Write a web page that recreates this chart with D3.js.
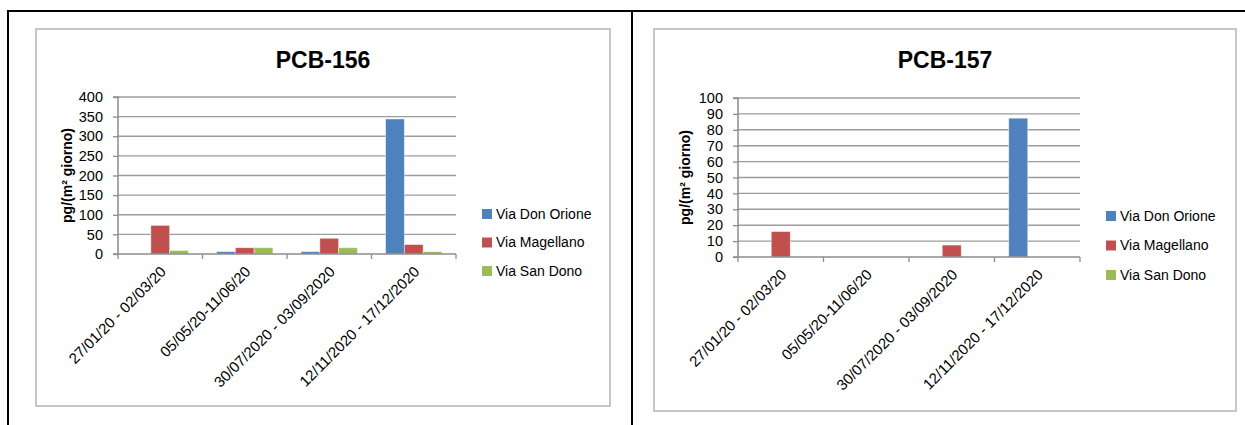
<!DOCTYPE html>
<html>
<head>
<meta charset="utf-8">
<script src="https://cdn.jsdelivr.net/npm/d3@7"></script>
<style>
  html, body { margin: 0; padding: 0; background: #fff; }
  svg { display: block; }
  text { font-family: "Liberation Sans", Arial, sans-serif; fill: #000; }
</style>
</head>
<body>
<svg id="page" width="1245" height="425"></svg>
<script>
// Sampling periods (x categories)
const categories = [
  "27/01/20 - 02/03/20",
  "05/05/20-11/06/20",
  "30/07/2020 - 03/09/2020",
  "12/11/2020 - 17/12/2020"
];
// Monitoring sites (series)
const seriesNames = ["Via Don Orione", "Via Magellano", "Via San Dono"];
const seriesColors = ["#4F81BD", "#C0504D", "#9BBB59"];

// PCB-156 deposition, pg/(m² giorno)
const pcb156DonOrione = [0, 6, 6, 344];
const pcb156Magellano = [73, 16, 40, 24];
const pcb156SanDono   = [9, 16, 16, 6];
const pcb156Ticks = [0, 50, 100, 150, 200, 250, 300, 350, 400];

// PCB-157 deposition, pg/(m² giorno)
const pcb157DonOrione = [0, 0, 0, 87.3];
const pcb157Magellano = [16, 0, 7.5, 0];
const pcb157SanDono   = [0, 0, 0, 0];
const pcb157Ticks = [0, 10, 20, 30, 40, 50, 60, 70, 80, 90, 100];

const yLabel = "pg/(m² giorno)";

const svg = d3.select("#page");

// page frame lines
const frame = svg.append("g").attr("stroke", "#000").attr("stroke-width", 2);
frame.append("line").attr("x1", 7).attr("x2", 1245).attr("y1", 11).attr("y2", 11);
frame.append("line").attr("x1", 8).attr("x2", 8).attr("y1", 10).attr("y2", 425);
frame.append("line").attr("x1", 632).attr("x2", 632).attr("y1", 10).attr("y2", 425);

function drawChart(opt) {
  const g = svg.append("g");

  // chart area border
  g.append("rect")
    .attr("x", opt.box[0]).attr("y", opt.box[1])
    .attr("width", opt.box[2] - opt.box[0]).attr("height", opt.box[3] - opt.box[1])
    .attr("fill", "#fff").attr("stroke", "#b4b4b4").attr("stroke-width", 1.5);

  // title
  g.append("text")
    .attr("x", (opt.box[0] + opt.box[2]) / 2).attr("y", 68)
    .attr("text-anchor", "middle")
    .attr("font-size", 23).attr("font-weight", "bold")
    .text(opt.title);

  const [px0, px1, py0, py1] = opt.plot; // left, right, top, bottom
  const x = d3.scaleBand().domain(categories).range([px0, px1]).padding(0);
  const xs = d3.scaleBand().domain(seriesNames).range([0, x.bandwidth()])
    .paddingInner(0).paddingOuter(0.75);
  const y = d3.scaleLinear().domain([0, opt.ticks[opt.ticks.length - 1]]).range([py1, py0]);

  // gridlines
  g.append("g").selectAll("line").data(opt.ticks.filter(t => t > 0)).join("line")
    .attr("x1", px0).attr("x2", px1)
    .attr("y1", d => y(d)).attr("y2", d => y(d))
    .attr("stroke", "#9c9c9c").attr("stroke-width", 1.4);

  // bars
  const rows = categories.map((c, i) => ({
    cat: c,
    vals: opt.series.map((s, k) => ({ name: seriesNames[k], v: s[i], color: seriesColors[k] }))
  }));
  g.append("g").selectAll("g").data(rows).join("g")
    .attr("transform", d => `translate(${x(d.cat)},0)`)
    .selectAll("rect").data(d => d.vals.filter(v => v.v > 0)).join("rect")
    .attr("x", d => xs(d.name))
    .attr("width", xs.bandwidth())
    .attr("y", d => y(d.v))
    .attr("height", d => y(0) - y(d.v))
    .attr("fill", d => d.color)
    .attr("stroke", "rgba(255,255,255,0.55)").attr("stroke-width", 0.8);

  // y axis
  const yAxis = d3.axisLeft(y).tickValues(opt.ticks).tickSize(5).tickPadding(10)
    .tickFormat(d3.format("d"));
  const ya = g.append("g").attr("transform", `translate(${px0},0)`).call(yAxis);
  ya.select(".domain").attr("stroke", "#8c8c8c").attr("stroke-width", 1.5)
    .attr("d", `M-5,${py0}H0V${py1}`);
  ya.selectAll(".tick line").attr("stroke", "#8c8c8c").attr("stroke-width", 1.3);
  ya.selectAll(".tick text").attr("font-size", 14.5)
    .attr("font-family", "Liberation Sans, Arial, sans-serif").attr("fill", "#000");

  // x axis line and category boundary ticks
  g.append("line").attr("x1", px0 - 5).attr("x2", px1).attr("y1", py1).attr("y2", py1)
    .attr("stroke", "#8c8c8c").attr("stroke-width", 1.5);
  const edges = categories.map(c => x(c)).concat([px1]);
  g.append("g").selectAll("line").data(edges).join("line")
    .attr("x1", d => d).attr("x2", d => d).attr("y1", py1).attr("y2", py1 + 5)
    .attr("stroke", "#8c8c8c").attr("stroke-width", 1.3);

  // category labels
  g.append("g").selectAll("text").data(categories).join("text")
    .attr("transform", d => `translate(${x(d) + x.bandwidth() / 2 + 3},${py1 + 15}) rotate(-45)`)
    .attr("text-anchor", "end")
    .attr("dy", "0.35em")
    .attr("font-size", 15)
    .text(d => d);

  // y axis title
  g.append("text")
    .attr("transform", `translate(${opt.yLabelX},${(py0 + py1) / 2}) rotate(-90)`)
    .attr("text-anchor", "middle").attr("dy", "0.35em")
    .attr("font-size", 14).attr("font-weight", "bold")
    .text(yLabel);

  // legend
  const lg = g.append("g").selectAll("g").data(seriesNames).join("g")
    .attr("transform", (d, i) => `translate(${opt.legend[0]},${opt.legend[1] + i * opt.legend[2]})`);
  lg.append("rect").attr("x", 0).attr("y", -5).attr("width", 10).attr("height", 10)
    .attr("fill", (d, i) => seriesColors[i]);
  lg.append("text").attr("x", 14).attr("dy", "0.35em").attr("font-size", 14).text(d => d);
}

drawChart({
  title: "PCB-156",
  box: [36, 29, 610, 406],
  plot: [118, 456, 97, 254],
  ticks: pcb156Ticks,
  series: [pcb156DonOrione, pcb156Magellano, pcb156SanDono],
  yLabelX: 67,
  legend: [482, 214, 28.5]
});

drawChart({
  title: "PCB-157",
  box: [654, 29, 1236, 411],
  plot: [738, 1080, 98, 257],
  ticks: pcb157Ticks,
  series: [pcb157DonOrione, pcb157Magellano, pcb157SanDono],
  yLabelX: 685,
  legend: [1106, 216, 29.5]
});
</script>
</body>
</html>
